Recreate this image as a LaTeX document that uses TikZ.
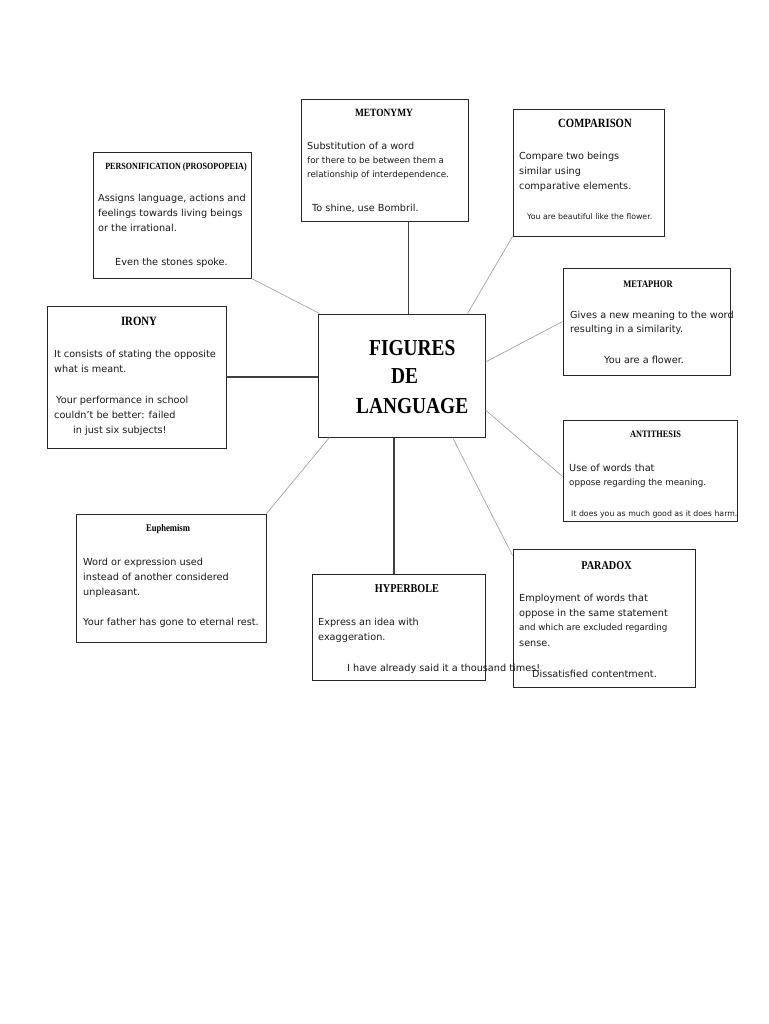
\documentclass[tikz,border=0pt]{standalone}
\usepackage{graphicx}
\usepackage{fontspec}
\setmainfont{DejaVu Sans}
\newfontfamily\titlefont{Liberation Serif}
\newcommand\narrow[1]{\scalebox{0.85}[1]{#1}}
\usetikzlibrary{positioning}

\begin{document}
\begin{tikzpicture}[x=1pt,y=-1pt,
  box/.style={draw=black!85,line width=0.9pt,inner sep=0pt},
  hub/.style={box,line width=1pt},
  spoke/.style={draw=black!75,line width=1.3pt},
  ray/.style={draw=black!40,line width=0.6pt},
  txt/.style={anchor=base west,inner sep=0pt,text=black!90,font=\fontsize{9.7}{11}\selectfont},
  sml/.style={txt,font=\fontsize{8.7}{10}\selectfont},
  tny/.style={txt,font=\fontsize{7.8}{9}\selectfont},
  ttl/.style={anchor=base,inner sep=0pt,font=\titlefont\bfseries\fontsize{#1}{#1}\selectfont},
  big/.style={anchor=base west,inner sep=0pt,font=\titlefont\bfseries\fontsize{22.8}{24}\selectfont}
]
\useasboundingbox[fill=white] (0,0) rectangle (768,1024);
% ---------- boxes ----------
\node[hub,minimum width=167pt,minimum height=123pt] (figures)  at (401.5,375.5) {};
\node[box,minimum width=167pt,minimum height=122pt] (metonymy) at (384.5,160) {};
\node[box,minimum width=151pt,minimum height=127pt] (compar)   at (588.5,172.5) {};
\node[box,minimum width=158pt,minimum height=126pt] (person)   at (172,215) {};
\node[box,minimum width=167pt,minimum height=107pt] (metaphor) at (646.5,321.5) {};
\node[box,minimum width=179pt,minimum height=142pt] (irony)    at (136.5,377) {};
\node[box,minimum width=174pt,minimum height=101pt] (antith)   at (650,470.5) {};
\node[box,minimum width=190pt,minimum height=128pt] (euphem)   at (171,578) {};
\node[box,minimum width=173pt,minimum height=106pt] (hyper)    at (398.5,627) {};
\node[box,minimum width=182pt,minimum height=138pt] (paradox)  at (604,618) {};
% ---------- connectors ----------
\draw[spoke] ([xshift=24pt]metonymy.south) -- ([xshift=24pt]metonymy.south |- figures.north);
\draw[spoke] (irony.east) -- (irony.east -| figures.west);
\draw[spoke] ([xshift=-7.5pt]figures.south) -- ([xshift=-7.5pt]figures.south |- hyper.north);
\draw[ray] (compar.south west) -- ([xshift=-18pt]figures.north east);
\draw[ray] (person.south east) -- ([xshift=2pt]figures.north west);
\draw[ray] (metaphor.west) -- ([yshift=13.5pt]figures.east);
\draw[ray] ([yshift=-6pt]antith.west) -- ([yshift=-34.5pt]figures.east);
\draw[ray] (euphem.north east) -- ([xshift=12pt]figures.south west);
\draw[ray] ([yshift=-7pt]paradox.north west) -- ([xshift=-33pt]figures.south east);
% ---------- centre ----------
\node[big] (fig1) at (369,355) {\narrow{FIGURES}};
\node[big] (fig2) at (391,383) {\narrow{DE}};
\node[big] (fig3) at (356,413) {\narrow{LANGUAGE}};
% ---------- metonymy ----------
\node[ttl=11.1] (metT) at (384,117) {\narrow{METONYMY}};
\node[txt] (met1) at (307,150) {Substitution of a word};
\node[sml] (met2) at (307,164) {for there to be between them a};
\node[sml] (met3) at (307,178) {relationship of interdependence.};
\node[txt] (met4) at (312,212) {To shine, use Bombril.};
% ---------- comparison ----------
\node[ttl=12.6] (comT) at (595,128) {\narrow{COMPARISON}};
\node[txt] (com1) at (519,160) {Compare two beings};
\node[txt] (com2) at (519,175) {similar using};
\node[txt] (com3) at (519,190) {comparative elements.};
\node[tny] (com4) at (527,219) {You are beautiful like the flower.};
% ---------- personification ----------
\node[ttl=9.5] (perT) at (176,170) {\narrow{PERSONIFICATION (PROSOPOPEIA)}};
\node[txt] (per1) at (98,202) {Assigns language, actions and};
\node[txt] (per2) at (98,217) {feelings towards living beings};
\node[txt] (per3) at (98,232) {or the irrational.};
\node[txt] (per4) at (115,265) {Even the stones spoke.};
% ---------- metaphor ----------
\node[ttl=10] (metaT) at (648,287) {\narrow{METAPHOR}};
\node[txt] (meta1) at (570,318) {Gives a new meaning to the word};
\node[txt] (meta2) at (570,332) {resulting in a similarity.};
\node[txt] (meta3) at (604,363) {You are a flower.};
% ---------- irony ----------
\node[ttl=12.7] (irT) at (139,325) {\narrow{IRONY}};
\node[txt] (ir1) at (54,357) {It consists of stating the opposite};
\node[txt] (ir2) at (54,372) {what is meant.};
\node[txt] (ir3) at (56,403) {Your performance in school};
\node[txt] (ir4) at (54,418) {couldn't be better: failed};
\node[txt] (ir5) at (73,433) {in just six subjects!};
% ---------- antithesis ----------
\node[ttl=9.8] (antT) at (655.5,437) {\narrow{ANTITHESIS}};
\node[txt] (ant1) at (569,471) {Use of words that};
\node[sml] (ant2) at (569,485) {oppose regarding the meaning.};
\node[tny] (ant3) at (571,516) {It does you as much good as it does harm.};
% ---------- euphemism ----------
\node[ttl=10.1] (euT) at (168,531) {\narrow{Euphemism}};
\node[txt] (eu1) at (83,565) {Word or expression used};
\node[txt] (eu2) at (83,580) {instead of another considered};
\node[txt] (eu3) at (83,595) {unpleasant.};
\node[txt] (eu4) at (83,625) {Your father has gone to eternal rest.};
% ---------- hyperbole ----------
\node[ttl=12] (hyT) at (407,592) {\narrow{HYPERBOLE}};
\node[txt] (hy1) at (318,625) {Express an idea with};
\node[txt] (hy2) at (318,640) {exaggeration.};
\node[txt] (hy3) at (347,671) {I have already said it a thousand times!};
% ---------- paradox ----------
\node[ttl=12] (parT) at (606.5,569) {\narrow{PARADOX}};
\node[txt] (par1) at (519,601) {Employment of words that};
\node[txt] (par2) at (519,616) {oppose in the same statement};
\node[sml] (par3) at (519,630) {and which are excluded regarding};
\node[txt] (par4) at (519,646) {sense.};
\node[txt] (par5) at (532,677) {Dissatisfied contentment.};
\end{tikzpicture}
\end{document}
